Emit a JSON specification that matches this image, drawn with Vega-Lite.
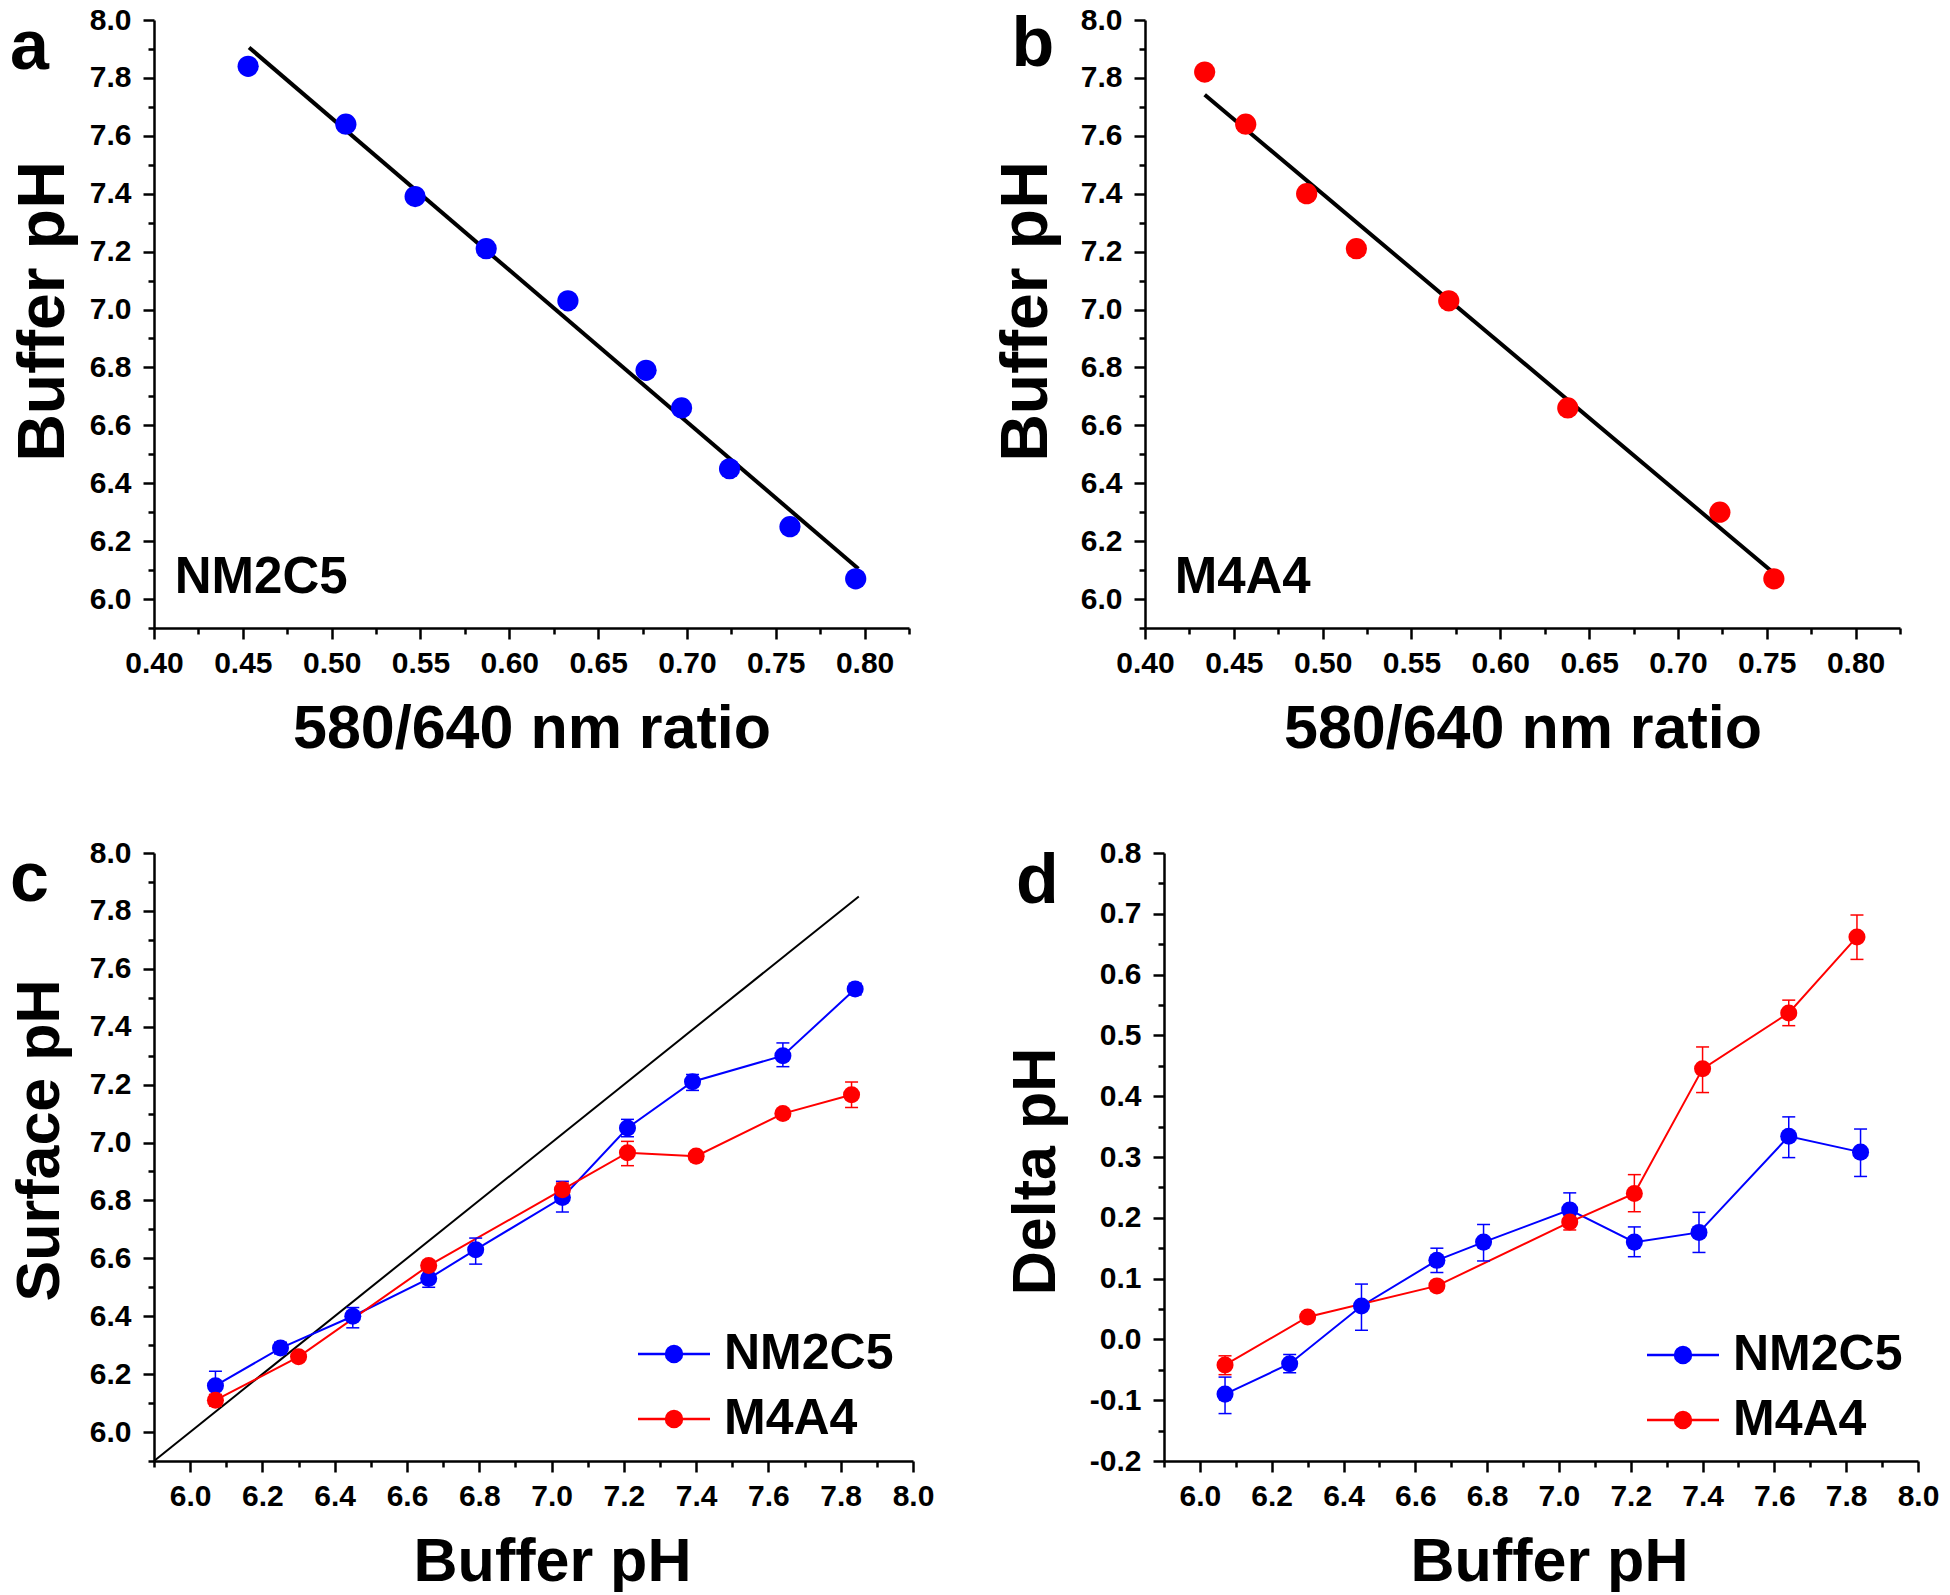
{
  "$schema": "https://vega.github.io/schema/vega-lite/v6.json",
  "background": "white",
  "padding": {"left": 9, "top": 5, "right": 0, "bottom": 0},
  "config": {
    "view": {"stroke": null},
    "font": "Liberation Sans",
    "axis": {"grid": false, "domainColor": "#000000", "domainWidth": 2.5, "tickColor": "#000000", "tickWidth": 2.5, "tickSize": 11, "labelFont": "Liberation Sans", "labelFontWeight": "bold", "labelFontSize": 30, "labelColor": "#000000", "labelFlush": false, "labelOverlap": false, "titleFont": "Liberation Sans", "titleFontWeight": "bold", "titleColor": "#000000"},
    "axisX": {"labelPadding": 9, "titleFontSize": 61, "titlePadding": 21},
    "axisY": {"labelPadding": 12, "titleFontSize": 66, "titlePadding": 16},
    "legend": {"labelLimit": 0}
  },
  "datasets": {
    "calA": [
      {"ratio": 0.453, "pH": 7.84}, {"ratio": 0.508, "pH": 7.64}, {"ratio": 0.547, "pH": 7.39}, {"ratio": 0.587, "pH": 7.21}, {"ratio": 0.633, "pH": 7.03},
      {"ratio": 0.677, "pH": 6.79}, {"ratio": 0.697, "pH": 6.66}, {"ratio": 0.724, "pH": 6.45}, {"ratio": 0.758, "pH": 6.25}, {"ratio": 0.795, "pH": 6.07}
    ],
    "calB": [
      {"ratio": 0.4336, "pH": 7.82}, {"ratio": 0.4567, "pH": 7.64}, {"ratio": 0.491, "pH": 7.4}, {"ratio": 0.519, "pH": 7.21},
      {"ratio": 0.571, "pH": 7.03}, {"ratio": 0.638, "pH": 6.66}, {"ratio": 0.7236, "pH": 6.3}, {"ratio": 0.754, "pH": 6.07}
    ],
    "fitA": [{"ratio": 0.4535, "pH": 7.905}, {"ratio": 0.7965, "pH": 6.105}],
    "fitB": [{"ratio": 0.4336, "pH": 7.742}, {"ratio": 0.7552, "pH": 6.083}],
    "diag": [{"x": 5.9, "y": 5.9}, {"x": 7.85, "y": 7.85}],
    "ph": [
      {"series": "NM2C5", "buffer": 6.07, "surface": 6.16, "s_lo": 6.12, "s_hi": 6.21, "delta": -0.09, "d_lo": -0.122, "d_hi": -0.062},
      {"series": "NM2C5", "buffer": 6.25, "surface": 6.29, "s_lo": 6.27, "s_hi": 6.31, "delta": -0.04, "d_lo": -0.055, "d_hi": -0.025},
      {"series": "NM2C5", "buffer": 6.45, "surface": 6.4, "s_lo": 6.36, "s_hi": 6.43, "delta": 0.055, "d_lo": 0.015, "d_hi": 0.091},
      {"series": "NM2C5", "buffer": 6.66, "surface": 6.53, "s_lo": 6.5, "s_hi": 6.56, "delta": 0.13, "d_lo": 0.11, "d_hi": 0.15},
      {"series": "NM2C5", "buffer": 6.79, "surface": 6.63, "s_lo": 6.58, "s_hi": 6.67, "delta": 0.16, "d_lo": 0.129, "d_hi": 0.189},
      {"series": "NM2C5", "buffer": 7.03, "surface": 6.81, "s_lo": 6.76, "s_hi": 6.866, "delta": 0.213, "d_lo": 0.186, "d_hi": 0.241},
      {"series": "NM2C5", "buffer": 7.21, "surface": 7.05, "s_lo": 7.02, "s_hi": 7.08, "delta": 0.16, "d_lo": 0.136, "d_hi": 0.185},
      {"series": "NM2C5", "buffer": 7.39, "surface": 7.21, "s_lo": 7.18, "s_hi": 7.235, "delta": 0.176, "d_lo": 0.143, "d_hi": 0.209},
      {"series": "NM2C5", "buffer": 7.64, "surface": 7.3, "s_lo": 7.262, "s_hi": 7.344, "delta": 0.334, "d_lo": 0.299, "d_hi": 0.366},
      {"series": "NM2C5", "buffer": 7.84, "surface": 7.53, "s_lo": 7.51, "s_hi": 7.55, "delta": 0.308, "d_lo": 0.268, "d_hi": 0.346},
      {"series": "M4A4", "buffer": 6.07, "surface": 6.11, "s_lo": 6.09, "s_hi": 6.13, "delta": -0.042, "d_lo": -0.058, "d_hi": -0.027},
      {"series": "M4A4", "buffer": 6.3, "surface": 6.26, "s_lo": 6.25, "s_hi": 6.27, "delta": 0.037, "d_lo": 0.03, "d_hi": 0.045},
      {"series": "M4A4", "buffer": 6.66, "surface": 6.575, "s_lo": 6.56, "s_hi": 6.59, "delta": 0.088, "d_lo": 0.08, "d_hi": 0.096},
      {"series": "M4A4", "buffer": 7.03, "surface": 6.837, "s_lo": 6.82, "s_hi": 6.86, "delta": 0.193, "d_lo": 0.18, "d_hi": 0.205},
      {"series": "M4A4", "buffer": 7.21, "surface": 6.965, "s_lo": 6.92, "s_hi": 7.004, "delta": 0.24, "d_lo": 0.21, "d_hi": 0.271},
      {"series": "M4A4", "buffer": 7.4, "surface": 6.953, "s_lo": 6.94, "s_hi": 6.965, "delta": 0.445, "d_lo": 0.406, "d_hi": 0.481},
      {"series": "M4A4", "buffer": 7.64, "surface": 7.1, "s_lo": 7.09, "s_hi": 7.11, "delta": 0.537, "d_lo": 0.516, "d_hi": 0.558},
      {"series": "M4A4", "buffer": 7.83, "surface": 7.165, "s_lo": 7.121, "s_hi": 7.209, "delta": 0.662, "d_lo": 0.625, "d_hi": 0.698}
    ]
  },
  "columns": 1,
  "align": "none",
  "bounds": "full",
  "spacing": 79,
  "resolve": {"scale": {"stroke": "independent", "fill": "independent"}, "legend": {"stroke": "independent", "fill": "independent"}},
  "concat": [
    {
      "bounds": "flush",
      "spacing": 236,
      "hconcat": [
        {
          "width": 755, "height": 608,
          "resolve": {"axis": {"x": "independent", "y": "independent"}},
          "layer": [
            {
              "data": {"name": "fitA"},
              "mark": {"type": "line", "color": "#000000", "strokeWidth": 4},
              "encoding": {
                "x": {"field": "ratio", "type": "quantitative", "scale": {"domain": [0.4, 0.825], "nice": false, "zero": false},
                      "axis": {"orient": "bottom", "values": [0.4, 0.45, 0.5, 0.55, 0.6, 0.65, 0.7, 0.75, 0.8], "format": ".2f", "title": "580/640 nm ratio"}},
                "y": {"field": "pH", "type": "quantitative", "scale": {"domain": [5.9, 8.0], "nice": false, "zero": false},
                      "axis": {"orient": "left", "values": [6, 6.2, 6.4, 6.6, 6.8, 7, 7.2, 7.4, 7.6, 7.8, 8], "format": ".1f", "title": "Buffer pH", "titleY": 291, "titlePadding": 12}}
              }
            },
            {
              "data": {"name": "calA"},
              "mark": {"type": "circle", "color": "#0000ff", "size": 450, "opacity": 1},
              "encoding": {
                "x": {"field": "ratio", "type": "quantitative", "axis": {"orient": "bottom", "values": [0.425, 0.475, 0.525, 0.575, 0.625, 0.675, 0.725, 0.775, 0.825], "labels": false, "domain": false, "tickSize": 6, "title": null}},
                "y": {"field": "pH", "type": "quantitative", "axis": {"orient": "left", "values": [5.9, 6.1, 6.3, 6.5, 6.7, 6.9, 7.1, 7.3, 7.5, 7.7, 7.9], "labels": false, "domain": false, "tickSize": 6, "title": null}}
              }
            },
            {
              "data": {"values": [{"t": "NM2C5"}]},
              "mark": {"type": "text", "align": "left", "baseline": "alphabetic", "fontSize": 51, "fontWeight": "bold", "font": "Liberation Sans", "color": "#000000"},
              "encoding": {"x": {"datum": 0.4117, "type": "quantitative", "axis": null}, "y": {"datum": 6.022, "type": "quantitative", "axis": null}, "text": {"field": "t"}}
            },
            {
              "data": {"values": [{"t": "a"}]},
              "mark": {"type": "text", "align": "left", "baseline": "alphabetic", "fontSize": 70, "fontWeight": "bold", "font": "Liberation Sans", "color": "#000000"},
              "encoding": {"x": {"datum": 0.3189, "type": "quantitative", "axis": null}, "y": {"datum": 7.832, "type": "quantitative", "axis": null}, "text": {"field": "t"}}
            }
          ]
        },
        {
          "width": 755, "height": 608,
          "resolve": {"axis": {"x": "independent", "y": "independent"}},
          "layer": [
            {
              "data": {"name": "fitB"},
              "mark": {"type": "line", "color": "#000000", "strokeWidth": 4},
              "encoding": {
                "x": {"field": "ratio", "type": "quantitative", "scale": {"domain": [0.4, 0.825], "nice": false, "zero": false},
                      "axis": {"orient": "bottom", "values": [0.4, 0.45, 0.5, 0.55, 0.6, 0.65, 0.7, 0.75, 0.8], "format": ".2f", "title": "580/640 nm ratio"}},
                "y": {"field": "pH", "type": "quantitative", "scale": {"domain": [5.9, 8.0], "nice": false, "zero": false},
                      "axis": {"orient": "left", "values": [6, 6.2, 6.4, 6.6, 6.8, 7, 7.2, 7.4, 7.6, 7.8, 8], "format": ".1f", "title": "Buffer pH", "titleY": 291, "titlePadding": 20}}
              }
            },
            {
              "data": {"name": "calB"},
              "mark": {"type": "circle", "color": "#ff0000", "size": 450, "opacity": 1},
              "encoding": {
                "x": {"field": "ratio", "type": "quantitative", "axis": {"orient": "bottom", "values": [0.425, 0.475, 0.525, 0.575, 0.625, 0.675, 0.725, 0.775, 0.825], "labels": false, "domain": false, "tickSize": 6, "title": null}},
                "y": {"field": "pH", "type": "quantitative", "axis": {"orient": "left", "values": [5.9, 6.1, 6.3, 6.5, 6.7, 6.9, 7.1, 7.3, 7.5, 7.7, 7.9], "labels": false, "domain": false, "tickSize": 6, "title": null}}
              }
            },
            {
              "data": {"values": [{"t": "M4A4"}]},
              "mark": {"type": "text", "align": "left", "baseline": "alphabetic", "fontSize": 51, "fontWeight": "bold", "font": "Liberation Sans", "color": "#000000"},
              "encoding": {"x": {"datum": 0.4167, "type": "quantitative", "axis": null}, "y": {"datum": 6.022, "type": "quantitative", "axis": null}, "text": {"field": "t"}}
            },
            {
              "data": {"values": [{"t": "b"}]},
              "mark": {"type": "text", "align": "left", "baseline": "alphabetic", "fontSize": 70, "fontWeight": "bold", "font": "Liberation Sans", "color": "#000000"},
              "encoding": {"x": {"datum": 0.3249, "type": "quantitative", "axis": null}, "y": {"datum": 7.842, "type": "quantitative", "axis": null}, "text": {"field": "t"}}
            }
          ]
        }
      ]
    },
    {
      "bounds": "flush",
      "spacing": 251,
      "resolve": {"scale": {"stroke": "independent", "fill": "independent"}, "legend": {"stroke": "independent", "fill": "independent"}},
      "hconcat": [
        {
          "width": 759, "height": 608,
          "resolve": {"axis": {"x": "independent", "y": "independent"}},
          "layer": [
            {
              "data": {"name": "diag"},
              "mark": {"type": "line", "color": "#000000", "strokeWidth": 2},
              "encoding": {
                "x": {"field": "x", "type": "quantitative", "scale": {"domain": [5.9, 8.0], "nice": false, "zero": false},
                      "axis": {"orient": "bottom", "values": [6, 6.2, 6.4, 6.6, 6.8, 7, 7.2, 7.4, 7.6, 7.8, 8], "format": ".1f", "title": "Buffer pH", "titleX": 398}},
                "y": {"field": "y", "type": "quantitative", "scale": {"domain": [5.9, 8.0], "nice": false, "zero": false},
                      "axis": {"orient": "left", "values": [6, 6.2, 6.4, 6.6, 6.8, 7, 7.2, 7.4, 7.6, 7.8, 8], "format": ".1f", "title": "Surface pH", "titleFontSize": 61, "titlePadding": 18, "titleY": 287}}
              }
            },
            {
              "data": {"name": "ph"},
              "mark": {"type": "line", "strokeWidth": 2},
              "encoding": {
                "x": {"field": "buffer", "type": "quantitative", "axis": null},
                "y": {"field": "surface", "type": "quantitative", "axis": null},
                "stroke": {"field": "series", "type": "nominal", "scale": {"domain": ["NM2C5", "M4A4"], "range": ["#0000ff", "#ff0000"]},
                           "legend": {"title": null, "orient": "none", "legendX": 495, "legendY": 476, "symbolType": "M-1.8,0H1.8M-0.4,0A0.4,0.4,0,1,1,0.4,0A0.4,0.4,0,1,1,-0.4,0Z", "symbolSize": 1600, "symbolStrokeWidth": 2.5, "labelFont": "Liberation Sans", "labelFontSize": 50, "labelFontWeight": "bold", "labelColor": "#000000", "labelOffset": 25, "rowPadding": 15, "labelLimit": 0}}
              }
            },
            {
              "data": {"name": "ph"},
              "mark": {"type": "rule", "strokeWidth": 1.5},
              "encoding": {
                "x": {"field": "buffer", "type": "quantitative", "axis": null},
                "y": {"field": "s_lo", "type": "quantitative", "axis": null},
                "y2": {"field": "s_hi"},
                "stroke": {"field": "series", "type": "nominal",
                           "legend": {"title": null, "orient": "none", "legendX": 495, "legendY": 476, "symbolType": "M-1.8,0H1.8M-0.4,0A0.4,0.4,0,1,1,0.4,0A0.4,0.4,0,1,1,-0.4,0Z", "symbolSize": 1600, "symbolStrokeWidth": 2.5, "labelFont": "Liberation Sans", "labelFontSize": 50, "labelFontWeight": "bold", "labelColor": "#000000", "labelOffset": 25, "rowPadding": 15, "labelLimit": 0}}
              }
            },
            {
              "data": {"name": "ph"},
              "mark": {"type": "tick", "orient": "horizontal", "size": 13, "thickness": 1.5, "opacity": 1},
              "encoding": {
                "x": {"field": "buffer", "type": "quantitative", "axis": null},
                "y": {"field": "s_lo", "type": "quantitative", "axis": null},
                "fill": {"field": "series", "type": "nominal", "scale": {"domain": ["NM2C5", "M4A4"], "range": ["#0000ff", "#ff0000"]},
                         "legend": {"title": null, "orient": "none", "legendX": 495, "legendY": 476, "symbolType": "M-1.8,0H1.8M-0.4,0A0.4,0.4,0,1,1,0.4,0A0.4,0.4,0,1,1,-0.4,0Z", "symbolSize": 1600, "symbolStrokeWidth": 2.5, "labelFont": "Liberation Sans", "labelFontSize": 50, "labelFontWeight": "bold", "labelColor": "#000000", "labelOffset": 25, "rowPadding": 15, "labelLimit": 0}}
              }
            },
            {
              "data": {"name": "ph"},
              "mark": {"type": "tick", "orient": "horizontal", "size": 13, "thickness": 1.5, "opacity": 1},
              "encoding": {
                "x": {"field": "buffer", "type": "quantitative", "axis": null},
                "y": {"field": "s_hi", "type": "quantitative", "axis": null},
                "fill": {"field": "series", "type": "nominal",
                         "legend": {"title": null, "orient": "none", "legendX": 495, "legendY": 476, "symbolType": "M-1.8,0H1.8M-0.4,0A0.4,0.4,0,1,1,0.4,0A0.4,0.4,0,1,1,-0.4,0Z", "symbolSize": 1600, "symbolStrokeWidth": 2.5, "labelFont": "Liberation Sans", "labelFontSize": 50, "labelFontWeight": "bold", "labelColor": "#000000", "labelOffset": 25, "rowPadding": 15, "labelLimit": 0}}
              }
            },
            {
              "data": {"name": "ph"},
              "mark": {"type": "circle", "size": 290, "opacity": 1},
              "encoding": {
                "x": {"field": "buffer", "type": "quantitative", "axis": {"orient": "bottom", "values": [5.9, 6.1, 6.3, 6.5, 6.7, 6.9, 7.1, 7.3, 7.5, 7.7, 7.9], "labels": false, "domain": false, "tickSize": 6, "title": null}},
                "y": {"field": "surface", "type": "quantitative", "axis": {"orient": "left", "values": [5.9, 6.1, 6.3, 6.5, 6.7, 6.9, 7.1, 7.3, 7.5, 7.7, 7.9], "labels": false, "domain": false, "tickSize": 6, "title": null}},
                "fill": {"field": "series", "type": "nominal",
                         "legend": {"title": null, "orient": "none", "legendX": 495, "legendY": 476, "symbolType": "M-1.8,0H1.8M-0.4,0A0.4,0.4,0,1,1,0.4,0A0.4,0.4,0,1,1,-0.4,0Z", "symbolSize": 1600, "symbolStrokeWidth": 2.5, "labelFont": "Liberation Sans", "labelFontSize": 50, "labelFontWeight": "bold", "labelColor": "#000000", "labelOffset": 25, "rowPadding": 15, "labelLimit": 0}}
              }
            },
            {
              "data": {"values": [{"t": "c"}]},
              "mark": {"type": "text", "align": "left", "baseline": "alphabetic", "fontSize": 70, "fontWeight": "bold", "font": "Liberation Sans", "color": "#000000"},
              "encoding": {"x": {"datum": 5.5016, "type": "quantitative", "axis": null}, "y": {"datum": 7.834, "type": "quantitative", "axis": null}, "text": {"field": "t"}}
            }
          ]
        },
        {
          "width": 754, "height": 608,
          "resolve": {"axis": {"x": "independent", "y": "independent"}},
          "layer": [
            {
              "data": {"name": "ph"},
              "mark": {"type": "line", "strokeWidth": 2},
              "encoding": {
                "x": {"field": "buffer", "type": "quantitative", "scale": {"domain": [5.9, 8.0], "nice": false, "zero": false},
                      "axis": {"orient": "bottom", "values": [6, 6.2, 6.4, 6.6, 6.8, 7, 7.2, 7.4, 7.6, 7.8, 8], "format": ".1f", "title": "Buffer pH", "titleX": 385}},
                "y": {"field": "delta", "type": "quantitative", "scale": {"domain": [-0.2, 0.8], "nice": false, "zero": false},
                      "axis": {"orient": "left", "values": [-0.2, -0.1, 0, 0.1, 0.2, 0.3, 0.4, 0.5, 0.6, 0.7, 0.8], "labelExpr": "datum.value < 0 ? '-' + format(-datum.value, '.1f') : format(datum.value, '.1f')", "title": "Delta pH", "titleFontSize": 61, "titlePadding": 22, "titleY": 318}},
                "stroke": {"field": "series", "type": "nominal", "scale": {"domain": ["NM2C5", "M4A4"], "range": ["#0000ff", "#ff0000"]},
                           "legend": {"title": null, "orient": "none", "legendX": 494, "legendY": 477, "symbolType": "M-1.8,0H1.8M-0.4,0A0.4,0.4,0,1,1,0.4,0A0.4,0.4,0,1,1,-0.4,0Z", "symbolSize": 1600, "symbolStrokeWidth": 2.5, "labelFont": "Liberation Sans", "labelFontSize": 50, "labelFontWeight": "bold", "labelColor": "#000000", "labelOffset": 25, "rowPadding": 15, "labelLimit": 0}}
              }
            },
            {
              "data": {"name": "ph"},
              "mark": {"type": "rule", "strokeWidth": 1.5},
              "encoding": {
                "x": {"field": "buffer", "type": "quantitative", "axis": null},
                "y": {"field": "d_lo", "type": "quantitative", "axis": null},
                "y2": {"field": "d_hi"},
                "stroke": {"field": "series", "type": "nominal",
                           "legend": {"title": null, "orient": "none", "legendX": 494, "legendY": 477, "symbolType": "M-1.8,0H1.8M-0.4,0A0.4,0.4,0,1,1,0.4,0A0.4,0.4,0,1,1,-0.4,0Z", "symbolSize": 1600, "symbolStrokeWidth": 2.5, "labelFont": "Liberation Sans", "labelFontSize": 50, "labelFontWeight": "bold", "labelColor": "#000000", "labelOffset": 25, "rowPadding": 15, "labelLimit": 0}}
              }
            },
            {
              "data": {"name": "ph"},
              "mark": {"type": "tick", "orient": "horizontal", "size": 13, "thickness": 1.5, "opacity": 1},
              "encoding": {
                "x": {"field": "buffer", "type": "quantitative", "axis": null},
                "y": {"field": "d_lo", "type": "quantitative", "axis": null},
                "fill": {"field": "series", "type": "nominal", "scale": {"domain": ["NM2C5", "M4A4"], "range": ["#0000ff", "#ff0000"]},
                         "legend": {"title": null, "orient": "none", "legendX": 494, "legendY": 477, "symbolType": "M-1.8,0H1.8M-0.4,0A0.4,0.4,0,1,1,0.4,0A0.4,0.4,0,1,1,-0.4,0Z", "symbolSize": 1600, "symbolStrokeWidth": 2.5, "labelFont": "Liberation Sans", "labelFontSize": 50, "labelFontWeight": "bold", "labelColor": "#000000", "labelOffset": 25, "rowPadding": 15, "labelLimit": 0}}
              }
            },
            {
              "data": {"name": "ph"},
              "mark": {"type": "tick", "orient": "horizontal", "size": 13, "thickness": 1.5, "opacity": 1},
              "encoding": {
                "x": {"field": "buffer", "type": "quantitative", "axis": null},
                "y": {"field": "d_hi", "type": "quantitative", "axis": null},
                "fill": {"field": "series", "type": "nominal",
                         "legend": {"title": null, "orient": "none", "legendX": 494, "legendY": 477, "symbolType": "M-1.8,0H1.8M-0.4,0A0.4,0.4,0,1,1,0.4,0A0.4,0.4,0,1,1,-0.4,0Z", "symbolSize": 1600, "symbolStrokeWidth": 2.5, "labelFont": "Liberation Sans", "labelFontSize": 50, "labelFontWeight": "bold", "labelColor": "#000000", "labelOffset": 25, "rowPadding": 15, "labelLimit": 0}}
              }
            },
            {
              "data": {"name": "ph"},
              "mark": {"type": "circle", "size": 290, "opacity": 1},
              "encoding": {
                "x": {"field": "buffer", "type": "quantitative", "axis": {"orient": "bottom", "values": [5.9, 6.1, 6.3, 6.5, 6.7, 6.9, 7.1, 7.3, 7.5, 7.7, 7.9], "labels": false, "domain": false, "tickSize": 6, "title": null}},
                "y": {"field": "delta", "type": "quantitative", "axis": {"orient": "left", "values": [-0.15, -0.05, 0.05, 0.15, 0.25, 0.35, 0.45, 0.55, 0.65, 0.75], "labels": false, "domain": false, "tickSize": 6, "title": null}},
                "fill": {"field": "series", "type": "nominal",
                         "legend": {"title": null, "orient": "none", "legendX": 494, "legendY": 477, "symbolType": "M-1.8,0H1.8M-0.4,0A0.4,0.4,0,1,1,0.4,0A0.4,0.4,0,1,1,-0.4,0Z", "symbolSize": 1600, "symbolStrokeWidth": 2.5, "labelFont": "Liberation Sans", "labelFontSize": 50, "labelFontWeight": "bold", "labelColor": "#000000", "labelOffset": 25, "rowPadding": 15, "labelLimit": 0}}
              }
            },
            {
              "data": {"values": [{"t": "d"}]},
              "mark": {"type": "text", "align": "left", "baseline": "alphabetic", "fontSize": 70, "fontWeight": "bold", "font": "Liberation Sans", "color": "#000000"},
              "encoding": {"x": {"datum": 5.4877, "type": "quantitative", "axis": null}, "y": {"datum": 0.7178, "type": "quantitative", "axis": null}, "text": {"field": "t"}}
            }
          ]
        }
      ]
    }
  ]
}
